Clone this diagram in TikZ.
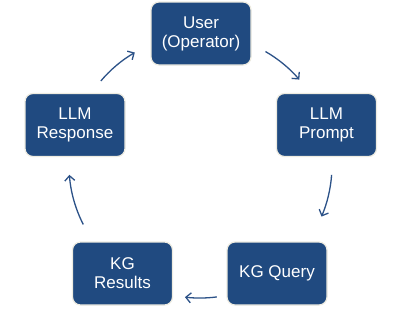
\documentclass[tikz,border=0pt]{standalone}
\usepackage{fontspec}
\setmainfont{Liberation Sans}
\usetikzlibrary{arrows.meta,calc}
\definecolor{boxblue}{RGB}{32,74,128}
\definecolor{arrblue}{RGB}{44,82,136}
\definecolor{rimcol}{RGB}{238,236,225}
\tikzset{
  stagebox/.style={draw=rimcol, line width=1.2pt, fill=boxblue, rounded corners=8pt,
    minimum width=100pt, minimum height=63pt, inner sep=0pt, align=center,
    text=white, font=\fontsize{17}{19}\selectfont},
  cyclearr/.style={draw=arrblue, line width=1.3pt,
    -{Straight Barb[length=5pt,width=10pt,line width=1.3pt]}}
}
\begin{document}
\begin{tikzpicture}[x=1pt,y=1pt]
\useasboundingbox (0,0) rectangle (401,-311);
\fill[white] (0,0) rectangle (401,-311);
\node[stagebox] (user) at (201,-33.5) {User\\(Operator)};
\node[stagebox] (prompt) at (326.5,-125) {LLM\\Prompt};
\node[stagebox] (query) at (277,-273.5) {KG Query};
\node[stagebox] (results) at (122.5,-273.5) {KG\\Results};
\node[stagebox] (response) at (75,-125) {LLM\\Response};
\coordinate (c) at (200,-165);
\coordinate (a1) at ($(c)+(60:131)$);
\coordinate (a2) at ($(c)+(-4.3:132)$);
\coordinate (a3) at ($(c)+(-82.7:133)$);
\coordinate (a4) at ($(c)+(207:131)$);
\coordinate (a5) at ($(c)+(139.7:130)$);
\draw[cyclearr] (a1) arc[start angle=60, end angle=40.7, radius=131];
\draw[cyclearr] (a2) arc[start angle=-4.3, end angle=-23, radius=132];
\draw[cyclearr] (a3) arc[start angle=-82.7, end angle=-96.5, radius=133];
\draw[cyclearr] (a4) arc[start angle=207, end angle=184.3, radius=131];
\draw[cyclearr] (a5) arc[start angle=139.7, end angle=120.1, radius=130];
\end{tikzpicture}
\end{document}
